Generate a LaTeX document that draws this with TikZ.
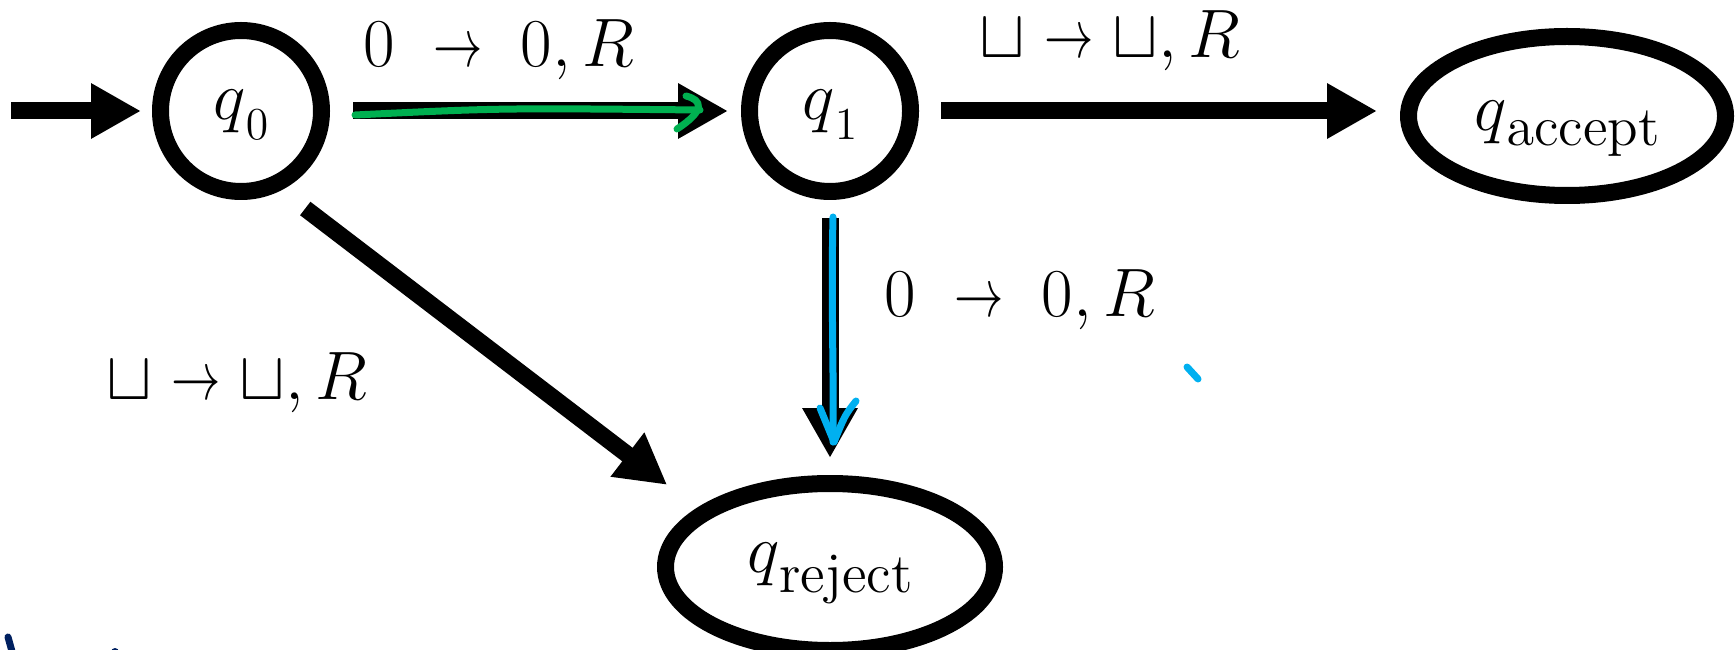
\documentclass[tikz,border=0pt]{standalone}
\usepackage{fix-cm}
\usepackage{graphicx}
\usetikzlibrary{arrows.meta,shapes.geometric}
\DeclareMathSizes{19.5}{19.5}{16}{13}
\definecolor{inkgreen}{HTML}{00B050}
\definecolor{inkblue}{HTML}{00B0F0}
\definecolor{inknavy}{HTML}{002060}
\newcommand{\shortto}{\mathrel{\scalebox{0.72}[1]{$\to$}}}
\newcommand{\qsub}[2]{q\raisebox{-#1}{$#2$}}

\begin{document}
\begin{tikzpicture}[
    font=\fontsize{19.5}{23}\selectfont,
    state/.style={draw, circle, line width=0.17cm, minimum size=1.61cm, inner sep=0pt, text height=0.3cm, text depth=0.12cm},
    halt/.style={draw, ellipse, line width=0.17cm, inner sep=0pt, text height=0.3cm},
    trans/.style={line width=0.17cm, -{Triangle[length=0.5cm,width=0.52cm]}},
    rule/.style={anchor=base, inner sep=0pt},
    ink/.style={line width=0.07cm, line cap=round, line join=round}]
    \useasboundingbox (0,0) rectangle (17.36,-6.50);
    \node[state] (q0) at (2.41,-1.11) {$\qsub{0.2cm}{\scriptscriptstyle 0}$};
    \node[state] (q1) at (8.30,-1.11) {$\qsub{0.2cm}{\scriptscriptstyle 1}$};
    \node[halt, text depth=0cm, minimum width=3.17cm, minimum height=1.59cm] (qacc) at (15.67,-1.16) {$\qsub{0.15cm}{\scriptstyle\mathrm{accept}}$};
    \node[halt, text depth=0.2cm, minimum width=3.29cm, minimum height=1.67cm] (qrej) at (8.30,-5.67) {$\qsub{0.2cm}{\scriptstyle\mathrm{reject}}$};
    \coordinate (init) at (0.11,-1.11);
    \draw[trans, shorten >=0.11cm] (init) -- (q0);
    \draw[trans, shorten <=0.23cm, shorten >=0.13cm] (q0) -- (q1);
    \draw[trans, shorten <=0.22cm, shorten >=0.23cm] (q1.east) -- (q1.east -| qacc.west);
    \draw[trans, shorten <=0.18cm, shorten >=0.17cm] (q1) -- (qrej);
    \draw[trans, shorten <=0.3cm, shorten >=0.38cm] (q0.-63) -- (qrej.156);
    \node[rule] (l01) at (4.99,-0.67) {$0\;\shortto\;0, R$};
    \node[rule] (l1a) at (11.10,-0.58) {$\sqcup\shortto\sqcup, R$};
    \node[rule] (l1r) at (10.20,-3.16) {$0\;\shortto\;0, R$};
    \node[rule] (l0r) at (2.37,-3.99) {$\sqcup\shortto\sqcup, R$};
    \draw[ink, inkgreen] (3.55,-1.15) .. controls (5.0,-1.08) .. (7.00,-1.10);
    \draw[ink, inkgreen] (6.86,-0.96) .. controls (7.02,-1.00) and (7.06,-1.10) .. (6.77,-1.29);
    \draw[ink, inkblue] (8.33,-2.17) .. controls (8.31,-3.0) and (8.34,-3.8) .. (8.33,-4.42);
    \draw[ink, inkblue] (8.20,-4.08) -- (8.34,-4.42);
    \draw[ink, inkblue] (8.56,-4.01) .. controls (8.45,-4.15) .. (8.34,-4.42);
    \draw[ink, inkblue] (11.87,-3.67) -- (11.98,-3.79);
    \draw[ink, inknavy] (0.08,-6.37) -- (0.13,-6.55);
    \fill[inknavy] (1.15,-6.52) circle (0.04);
\end{tikzpicture}
\end{document}
